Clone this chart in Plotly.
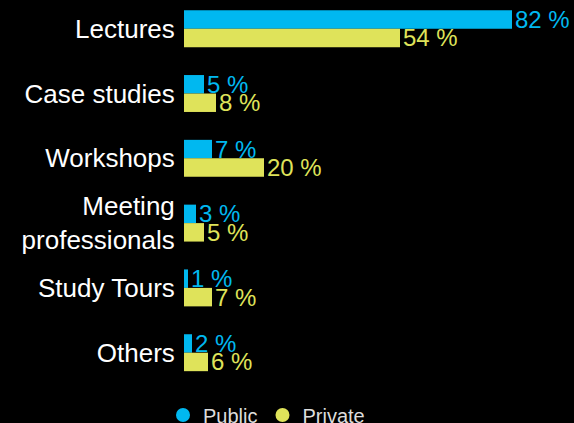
import plotly.graph_objects as go

# Survey: teaching methods used, share of respondents (%)
categories = ["Lectures", "Case studies", "Workshops",
              "Meeting<br>professionals", "Study Tours", "Others"]
public_values = [82, 5, 7, 3, 1, 2]
private_values = [54, 8, 20, 5, 7, 6]
series_names = ["Public", "Private"]

BLUE = "#00b8f0"
YELLOW = "#dfe35a"
FONT = "Liberation Sans, Arial, Helvetica, sans-serif"

fig = go.Figure()

for name, values, color in [(series_names[0], public_values, BLUE),
                            (series_names[1], private_values, YELLOW)]:
    fig.add_trace(go.Bar(
        y=categories, x=values, orientation="h", name=name,
        marker=dict(color=color, line=dict(width=0)),
        texttemplate="%{x} %", textposition="outside",
        textfont=dict(color=color, size=24, family=FONT),
        constraintext="none", cliponaxis=False,
        showlegend=False, hoverinfo="skip",
    ))
    # round legend markers
    fig.add_trace(go.Scatter(
        x=[None], y=[None], mode="markers", name=name,
        marker=dict(color=color, size=14, symbol="circle"),
        showlegend=True,
    ))

fig.update_layout(
    width=574, height=423,
    paper_bgcolor="black", plot_bgcolor="black",
    margin=dict(l=184, r=0, t=0, b=39, autoexpand=False),
    barmode="group", bargap=0.43, bargroupgap=0,
    font=dict(family=FONT, color="white"),
    xaxis=dict(range=[0, 97.5], visible=False, showgrid=False, zeroline=False),
    yaxis=dict(
        range=[5.483, -0.443], showgrid=False, zeroline=False, showline=False,
        tickfont=dict(size=26, color="white", family=FONT),
        ticks="outside", ticklen=3, tickcolor="rgba(0,0,0,0)",
    ),
    legend=dict(
        orientation="h", xref="container", yref="container",
        x=(163.0 / 574), xanchor="left", y=(423 - 415) / 423, yanchor="middle",
        font=dict(size=20, color="#dddddd", family=FONT),
        bgcolor="rgba(0,0,0,0)", itemclick=False,
    ),
)

fig.write_html("out.html")
